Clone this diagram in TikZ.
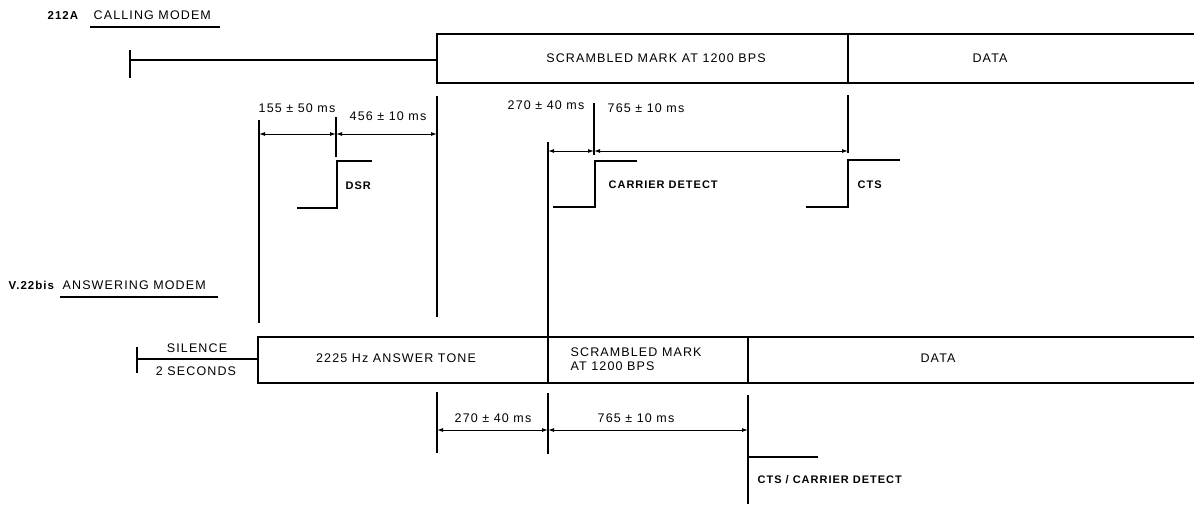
\documentclass[tikz,border=0pt]{standalone}
\usepackage{fontspec}
\setmainfont{Liberation Sans}[LetterSpace=9]
\usetikzlibrary{arrows.meta}

\begin{document}
\begin{tikzpicture}[x=1pt, y=-1pt, line width=1.3pt,
    font=\fontsize{12.5}{14}\selectfont,
    lbl/.style={inner sep=0pt},
    sig/.style={font=\fontsize{11}{12}\selectfont\bfseries, anchor=west, inner sep=0pt},
    dim/.style={{Latex[length=6pt,width=4pt]}-{Latex[length=6pt,width=4pt]}, line width=1pt}]
  \useasboundingbox (0,0) rectangle (1200,504);

  % calling modem
  \node[sig, font=\fontsize{11.5}{12}\selectfont\bfseries] (callid) at (47,15) {212A};
  \node[lbl, anchor=west] (calling) at (93,15) {CALLING MODEM};
  \draw (90,27) -- (220,27);
  \draw (130,50) -- (130,78);
  \draw (130,60) -- (437,60);
  \draw (1194,34) -- (437,34) -- (437,83) -- (1194,83);
  \draw (848,34) -- (848,83);
  \node[lbl] (mark) at (656,58) {SCRAMBLED MARK AT 1200 BPS};
  \node[lbl] (data) at (990,58) {DATA};

  % timing marks
  \foreach \x/\a/\b in {259/120/323, 336/117/157, 437/96/317, 548/142/383, 594/103/155, 848/95/153}
    \draw (\x,\a) -- (\x,\b);
  \draw[dim] (259,134) -- (336,134);
  \draw[dim] (336,134) -- (437,134);
  \draw[dim] (548,151) -- (594,151);
  \draw[dim] (594,151) -- (848,151);
  \node[lbl] (dsrdelay) at (297,108) {155 ± 50 ms};
  \node[lbl] (dsrtime) at (388,116) {456 ± 10 ms};
  \node[lbl] (cddelay) at (546,105) {270 ± 40 ms};
  \node[lbl] (ctstime) at (646,108) {765 ± 10 ms};

  % signal steps
  \draw (297,208) -- (337,208) -- (337,161) -- (372,161);
  \node[sig] (dsr) at (345,186) {DSR};
  \draw (553,207) -- (595,207) -- (595,161) -- (637,161);
  \node[sig] (cd) at (608,185) {CARRIER DETECT};
  \draw (806,207) -- (848,207) -- (848,160) -- (900,160);
  \node[sig] (cts) at (857,185) {CTS};

  % answering modem
  \node[sig, font=\fontsize{11.5}{12}\selectfont\bfseries] (ansid) at (8,285) {V.22bis};
  \node[lbl, anchor=west] (answering) at (62,285) {ANSWERING MODEM};
  \draw (60,297) -- (218,297);
  \draw (137,347) -- (137,373);
  \draw (137,359) -- (258,359);
  \node[lbl] (silence) at (197,348) {SILENCE};
  \node[lbl] (twosec) at (196,371) {2 SECONDS};
  \draw (1194,337) -- (258,337) -- (258,383) -- (1194,383);
  \draw (748,337) -- (748,383);
  \node[lbl] (tone) at (396,358) {2225 Hz ANSWER TONE};
  \node[lbl, anchor=west, align=left] (mark2) at (570,359) {SCRAMBLED MARK\\AT 1200 BPS};
  \node[lbl] (data2) at (938,358) {DATA};

  \foreach \x/\a/\b in {437/392/453, 548/393/454, 748/395/504}
    \draw (\x,\a) -- (\x,\b);
  \draw[dim] (437,430) -- (548,430);
  \draw[dim] (548,430) -- (748,430);
  \node[lbl] (tonetime) at (493,418) {270 ± 40 ms};
  \node[lbl] (marktime) at (636,418) {765 ± 10 ms};
  \draw (748,457) -- (818,457);
  \node[sig] (ctscd) at (757,480) {CTS / CARRIER DETECT};
\end{tikzpicture}
\end{document}
